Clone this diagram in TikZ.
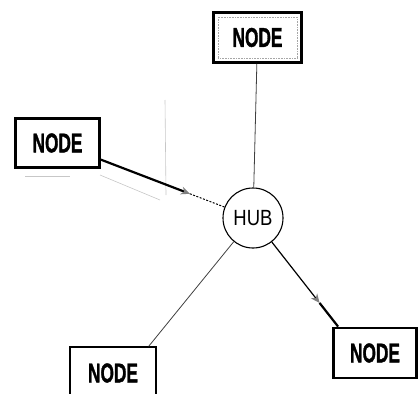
\documentclass[tikz,border=0pt]{standalone}
\usepackage{fontspec}
\setmainfont{Liberation Sans}
\newfontfamily\nodefont[BoldFont=Liberation Sans Bold,BoldFeatures={FakeBold=1.6}]{Liberation Sans}
\usetikzlibrary{arrows.meta,calc}
\tikzset{
  nodebox/.style={draw=black,line width=2.8pt,rectangle,fill=white,minimum width=84pt,minimum height=49pt,inner sep=0pt,
    font=\nodefont\fontsize{27}{27}\selectfont\bfseries},
  thinbox/.style={nodebox,line width=1.4pt},
  hubnode/.style={draw=black,line width=1.1pt,circle,minimum size=60pt,inner sep=0pt,fill=white,font=\fontsize{22}{22}\selectfont},
  thinlink/.style={draw=black!75,line width=0.8pt},
  thicklink/.style={draw=black,line width=2.2pt},
  faint/.style={draw=black!22,line width=0.6pt}
}
\begin{document}
\begin{tikzpicture}[x=1pt,y=-1pt]
\useasboundingbox (0,0) rectangle (419,393);
% faint scan marks
\draw[faint] (165,100) -- (166,195);
\draw[faint] (100,175) -- (160,200);
\draw[faint] (25,176) -- (70,176);
% nodes
\node[hubnode] (hub) at (253,218) {\scalebox{0.84}[1]{HUB}};
\node[nodebox,minimum width=88pt,minimum height=50pt] (top) at (257.5,37.5) {\scalebox{0.64}[1]{NODE}};
\draw[black!35,line width=0.6pt,densely dotted] ($(top.south west)+(6,-6)$) rectangle ($(top.north east)+(-6,6)$);
\node[nodebox] (left) at (57.5,143) {\scalebox{0.64}[1]{NODE}};
\node[nodebox,minimum width=83pt,minimum height=50pt] (br) at (375,353) {\scalebox{0.64}[1]{NODE}};
\node[thinbox,minimum width=86pt,minimum height=52pt] (bl) at (113,373) {\scalebox{0.64}[1]{NODE}};
% connectors
\draw[thinlink] (top) -- (hub);
\path (left) -- (hub) coordinate[pos=0.72] (lmid);
\draw[thicklink,-{Stealth[gray,length=9pt,width=8pt]}] (left) -- (lmid);
\draw[black,line width=1pt,dash pattern=on 2pt off 1.5pt] (lmid) -- (hub);
\coordinate (brc) at ($(br.north west)+(6,0)$);
\path (hub) -- (brc) coordinate[pos=0.72] (brmid);
\draw[black,line width=1.2pt,-{Stealth[gray,length=9pt,width=8pt]}] (hub) -- (brmid);
\draw[thicklink] (brmid) -- (brc);
\draw[thinlink] (hub) -- ($(bl.north east)+(-8,0)$);
\end{tikzpicture}
\end{document}
